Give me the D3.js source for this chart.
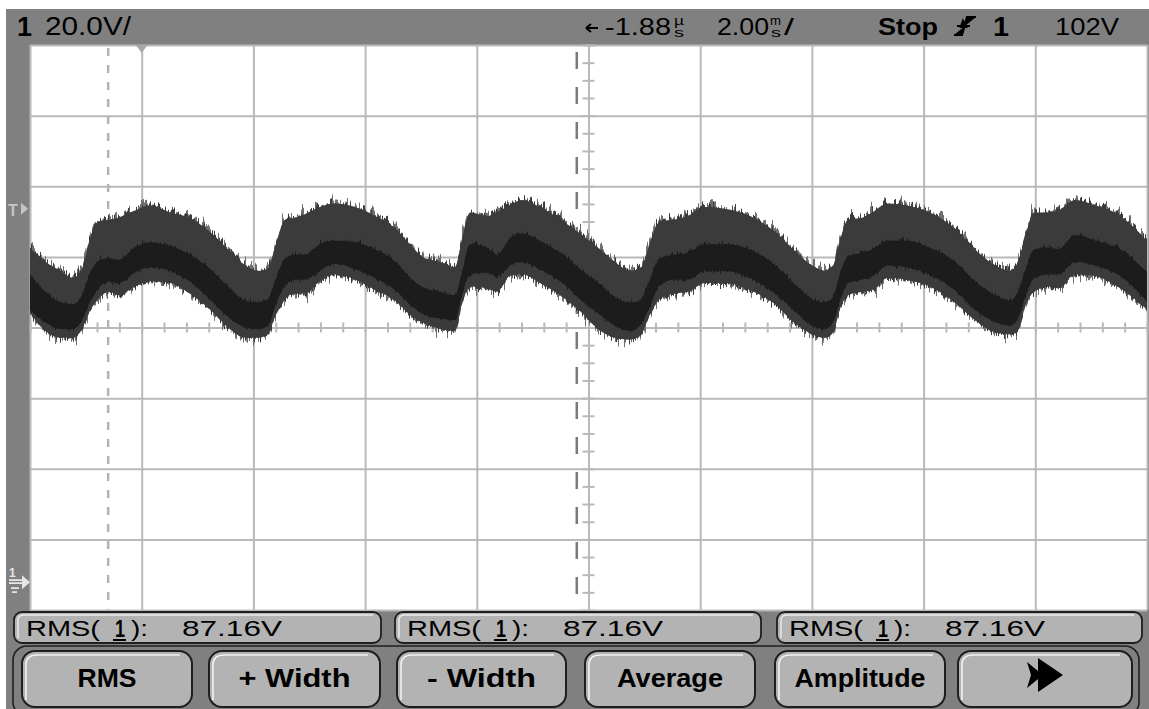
<!DOCTYPE html>
<html><head><meta charset="utf-8">
<script src="https://cdn.jsdelivr.net/npm/d3@7"></script>
<style>body{margin:0;background:#fff}svg{display:block}</style>
</head><body>
<svg id="c" width="1149" height="709"></svg>
<script>
// ---------- data ----------
const timeMs = [-10.00,-9.73,-9.46,-9.23,-9.07,-8.93,-8.75,-8.57,-8.42,-8.12,-7.85,-7.49,-7.14,-6.78,-6.42,-6.15,-5.92,-5.74,
  -5.60,-5.43,-5.26,-5.08,-4.81,-4.54,-4.18,-3.82,-3.46,-3.20,-2.93,-2.66,-2.39,
  -2.27,-2.12,-1.82,-1.64,-1.41,-1.19,-0.87,-0.46,-0.15,0.21,0.47,0.74,0.92,
  1.10,1.28,1.55,1.78,2.09,2.44,2.89,3.34,3.70,4.00,4.23,4.38,
  4.50,4.65,4.90,5.08,5.36,5.67,6.11,6.56,6.92,7.28,7.55,7.69,
  7.83,7.98,8.23,8.41,8.71,9.07,9.52,10.00];
const outerHi = [95,91,88.5,86.5,89,97,102.5,103,103.5,105.5,107,105,103.5,99.5,94,90,88.5,89,
  96,103,103.5,104.5,106.5,107.5,106.5,104,100.5,96,92,91,89.5,
  97,105,104,105,107,108.5,106.5,102.5,99,94.5,91,88.5,89,
  96,102.5,103,104,106.5,106,104,99.5,94,90,88.5,90,
  97,103,103.5,105,107.5,107,105,100.5,94.5,90,88.5,91,
  98.5,105,105,105.5,108.5,107,104,97];
const coreHi = [87.5,82.5,79.5,79,81.5,87.5,91.5,92,91.5,95,96.5,95.5,93,89,83.5,80,79.5,80.5,
  86,92,93,93,96,97,96.5,94.5,91,86.5,83.5,82.5,81.5,
  87.5,96,95,93,97.5,99,97,93,89,84.5,81,79.5,80,
  86,92,93,93.5,96,96,94.5,90,84.5,80.5,79.5,81,
  87.5,92.5,93.5,94.5,97,97,95,91,85.5,81.5,80,82.5,
  89,94.5,95,94.5,98.5,97,94.5,88];
const coreLo = [77.5,74,72,72,74.5,79.5,84,85.5,85,88,89.5,88.5,85.5,80.5,75,72.5,72,73,
  79,84.5,86,86,88.5,90.5,89,86.5,83,79,76,75,74.5,
  81.5,87.5,88,87,90,91,89,85,80.5,76,73,71.5,73,
  78.5,84.5,86,86,88.5,88.5,86.5,82,77,73,72,74,
  80,85,86,87,90,89.5,87.5,83,77.5,74,73,75,
  81.5,86.5,87.5,87.5,91,90,87,80];
const outerLo = [76.5,71.5,69.5,69.5,72,77,81,82.5,81.5,84,85.5,85,82,77.5,72,69.5,69.5,70.5,
  76,80.5,82,82,85.5,87.5,86,83,80,76,73.5,72,71.5,
  79,84,83.5,82.5,87,87.5,85,81,77,71.5,69.5,69,70,
  76,80.5,82,82.5,85,85,83,79,73.5,70.5,69.5,71,
  77.5,81.5,82.5,83,86.5,86,84,79.5,74.5,71,70.5,71.5,
  79,82.5,84,83.5,87.5,87,83.5,77.5];

const timePerDivMs = 2.0;      // 2.00 ms/
const voltsPerDiv = 20.0;      // 20.0 V/
const screenCenterV = 72.4;    // channel offset (ground marker near the bottom)
const timeGridMs = [-10,-8,-6,-4,-2,0,2,4,6,8,10];
const voltGridDiv = [-4,-3,-2,-1,0,1,2,3,4];
const cursorMs = [-8.60, -0.21];
const triggerPosMs = -8.0;
const triggerMarkV = 106;
const groundV = 0;

const topLabels = {ch:"1", scale:"20.0V/", delay:"-1.88", time:"2.00", mode:"Stop", trigCh:"1", level:"102V"};
const measLabels = ["RMS(1): 87.16V","RMS(1): 87.16V","RMS(1): 87.16V"];
const buttonLabels = ["RMS","+ Width","- Width","Average","Amplitude",""];

// ---------- layout ----------
const gx0 = 30, gx1 = 1147, gy0 = 45, gy1 = 610;
const svg = d3.select('#c');
const x = d3.scaleLinear().domain([-5*timePerDivMs, 5*timePerDivMs]).range([gx0, gx1]);
const y = d3.scaleLinear().domain([screenCenterV - 4*voltsPerDiv, screenCenterV + 4*voltsPerDiv]).range([gy1, gy0]);

// defs: filters for noisy spikes
const defs = svg.append('defs');
function spikeFilter(id, scale, seed, fx) {
  const f = defs.append('filter').attr('id', id)
    .attr('x', '-1%').attr('y', '-40%').attr('width', '102%').attr('height', '180%')
    .attr('color-interpolation-filters', 'sRGB');
  f.append('feTurbulence').attr('type', 'fractalNoise').attr('baseFrequency', fx + ' 0.003')
    .attr('numOctaves', 2).attr('seed', seed).attr('result', 'n');
  f.append('feColorMatrix').attr('in', 'n').attr('type', 'matrix')
    .attr('values', '0 0 0 0 0.5  0 1 0 0 0  0 0 0 0 0  0 0 0 0 1').attr('result', 'm');
  f.append('feDisplacementMap').attr('in', 'SourceGraphic').attr('in2', 'm')
    .attr('scale', scale).attr('xChannelSelector', 'R').attr('yChannelSelector', 'G');
}
spikeFilter('spkA', 34, 7, 0.45);
spikeFilter('spkB', 22, 3, 0.55);
spikeFilter('spkC', 12, 11, 0.6);
defs.append('clipPath').attr('id', 'gclip').append('rect')
  .attr('x', gx0).attr('y', gy0).attr('width', gx1 - gx0).attr('height', gy1 - gy0);

// panel background
svg.append('rect').attr('x', 6).attr('y', 9).attr('width', 1143).attr('height', 700).attr('fill', '#808080');
svg.append('rect').attr('x', gx0).attr('y', gy0).attr('width', gx1 - gx0).attr('height', gy1 - gy0).attr('fill', '#ffffff');

// grid via axes
const gridCol = '#b9b9b9';
const gV = svg.append('g').attr('transform', `translate(0,${gy1})`)
  .call(d3.axisBottom(x).tickValues(timeGridMs).tickSize(-(gy1 - gy0)).tickFormat(''));
const gH = svg.append('g').attr('transform', `translate(${gx0},0)`)
  .call(d3.axisLeft(y).tickValues(voltGridDiv.map(d => screenCenterV + d*voltsPerDiv)).tickSize(-(gx1 - gx0)).tickFormat(''));
// minor ticks on center lines
const minorT = d3.range(-5*timePerDivMs, 5*timePerDivMs + 1e-9, timePerDivMs/5);
const minorV = d3.range(screenCenterV - 4*voltsPerDiv, screenCenterV + 4*voltsPerDiv + 1e-9, voltsPerDiv/4);
const gMT = svg.append('g').attr('transform', `translate(0,${y(screenCenterV) + 5})`)
  .call(d3.axisBottom(x).tickValues(minorT).tickSize(-10).tickFormat(''));
const gMV = svg.append('g').attr('transform', `translate(${x(0) - 6},0)`)
  .call(d3.axisLeft(y).tickValues(minorV).tickSize(-12).tickFormat(''));
[gV, gH, gMT, gMV].forEach(g => {
  g.select('.domain').remove();
  g.selectAll('line').attr('stroke', gridCol).attr('stroke-width', 2);
});

// cursors
svg.append('line').attr('x1', x(cursorMs[0])).attr('x2', x(cursorMs[0])).attr('y1', gy0 + 3).attr('y2', gy1)
  .attr('stroke', '#b4b4b4').attr('stroke-width', 2.5).attr('stroke-dasharray', '8 9');
svg.append('line').attr('x1', x(cursorMs[1])).attr('x2', x(cursorMs[1])).attr('y1', gy0 + 7).attr('y2', gy1)
  .attr('stroke', '#7a7a7a').attr('stroke-width', 2.5).attr('stroke-dasharray', '17 18');

// waveform
const pts = timeMs.map((t, i) => ({t, oh: outerHi[i], ol: outerLo[i], ch: coreHi[i], cl: coreLo[i]}));
const outer = d3.area().x(d => x(d.t)).y0(d => y(d.ol)).y1(d => y(d.oh)).curve(d3.curveMonotoneX);
const core = d3.area().x(d => x(d.t)).y0(d => y(d.cl)).y1(d => y(d.ch)).curve(d3.curveMonotoneX);
const wave = svg.append('g').attr('clip-path', 'url(#gclip)');
wave.append('path').attr('d', outer(pts)).attr('fill', '#6e6e6e').attr('filter', 'url(#spkA)');
wave.append('path').attr('d', outer(pts)).attr('fill', '#3b3b3b').attr('filter', 'url(#spkB)');
wave.append('path').attr('d', outer(pts)).attr('fill', '#3b3b3b');
wave.append('path').attr('d', core(pts)).attr('fill', '#1c1c1c').attr('filter', 'url(#spkC)');
wave.append('path').attr('d', core(pts)).attr('fill', '#1c1c1c');

// trigger position marker (top) and level marker (left)
const tp = x(triggerPosMs);
svg.append('path').attr('d', `M${tp - 6},${gy0} L${tp + 6},${gy0} L${tp},${gy0 + 8} Z`).attr('fill', '#a9a9a9');
const tl = y(triggerMarkV);
svg.append('text').attr('x', 8).attr('y', tl + 7).text('T')
  .attr('font-family', 'Liberation Sans, sans-serif').attr('font-weight', 'bold').attr('font-size', 16).attr('fill', '#c4c4c4');
svg.append('path').attr('d', `M21,${tl - 6} L28,${tl} L21,${tl + 6} Z`).attr('fill', '#c4c4c4');
const gl = y(groundV);
svg.append('text').attr('x', 9).attr('y', gl - 6).text('1')
  .attr('font-family', 'Liberation Sans, sans-serif').attr('font-weight', 'bold').attr('font-size', 12).attr('fill', '#e6e6e6');
svg.append('path').attr('d', `M9,${gl - 3} L24,${gl - 3} M9,${gl} L24,${gl} M11,${gl + 5} L19,${gl + 5} M12,${gl + 9} L17,${gl + 9}`)
  .attr('stroke', '#e6e6e6').attr('stroke-width', 1.6);
svg.append('path').attr('d', `M22,${gl - 8} L30,${gl - 1} L22,${gl + 6} Z`).attr('fill', '#e6e6e6');

// ---------- top status bar ----------
const F = 'Liberation Sans, Arial, sans-serif';
function txt(s, xx, yy, size, opts = {}) {
  const t = svg.append('text').attr('x', xx).attr('y', yy).text(s)
    .attr('font-family', opts.family || F).attr('font-size', size).attr('fill', opts.fill || '#000')
    .attr('font-weight', opts.bold ? 'bold' : 'normal');
  if (opts.len) t.attr('textLength', opts.len).attr('lengthAdjust', 'spacingAndGlyphs');
  if (opts.anchor) t.attr('text-anchor', opts.anchor);
  return t;
}
txt(topLabels.ch, 17, 36, 28, {bold: true, len: 15});
txt(topLabels.scale, 45, 35, 25, {len: 86});
svg.append('path').attr('d', 'M586,28 L598,28 M586,28 L591,24 M586,28 L591,32').attr('stroke', '#000').attr('stroke-width', 2).attr('fill', 'none');
txt(topLabels.delay, 605, 35, 24, {len: 66});
txt('µ', 674, 25, 12, {len: 10});
txt('s', 674, 37, 12, {len: 10});
txt(topLabels.time, 717, 35, 24, {len: 52});
txt('m', 770, 25, 12, {len: 11});
txt('s', 771, 37, 12, {len: 10});
txt('/', 784, 35, 24, {len: 10});
txt(topLabels.mode, 878, 35, 24, {bold: true, len: 60});
svg.append('path').attr('d', 'M954,35 L962,35 L967,17 L976,17 M957,26 L970,26 M963,21 L966,27 L961,27 Z')
  .attr('stroke', '#000').attr('stroke-width', 2.2).attr('fill', '#000');
txt(topLabels.trigCh, 993, 36, 28, {bold: true, len: 16});
txt(topLabels.level, 1055, 35, 24, {len: 64});

// ---------- measurement bar ----------
const measBoxes = [[14, 381], [395, 761], [777, 1142]];
measBoxes.forEach(([a, b], i) => {
  svg.append('rect').attr('x', a).attr('y', 612).attr('width', b - a).attr('height', 31).attr('rx', 8)
    .attr('fill', '#b3b3b3').attr('stroke', '#1e1e1e').attr('stroke-width', 1.8);
  svg.append('path').attr('d', `M${a + 4},${638} L${a + 4},${620} Q${a + 4},${615} ${a + 10},${615} L${b - 8},${615}`)
    .attr('fill', 'none').attr('stroke', '#eaeaea').attr('stroke-width', 1.5);
  const parts = measLabels[i].match(/^(RMS\()(1)(\):)\s*(.*)$/);
  txt(parts[1], a + 12, 636, 22, {len: 74});
  txt(parts[2], a + 101, 637, 24, {bold: true, len: 10});
  svg.append('line').attr('x1', a + 99).attr('x2', a + 112).attr('y1', 640).attr('y2', 640).attr('stroke', '#000').attr('stroke-width', 2);
  txt(parts[3], a + 117, 636, 22, {len: 17});
  txt(parts[4], a + 168, 636, 22, {len: 100});
});

// ---------- softkey buttons ----------
const btns = [[22, 192], [209, 380], [397, 566], [585, 755], [775, 945], [958, 1132]];
const btnTextLen = [59, 112, 109, 106, 131, 0];
svg.append('rect').attr('x', 13).attr('y', 646).attr('width', 1126).attr('height', 70).attr('rx', 14)
  .attr('fill', 'none').attr('stroke', '#1e1e1e').attr('stroke-width', 1.6);
btns.forEach(([a, b], i) => {
  svg.append('rect').attr('x', a).attr('y', 651).attr('width', b - a).attr('height', 56).attr('rx', 13)
    .attr('fill', '#b3b3b3').attr('stroke', '#1e1e1e').attr('stroke-width', 2);
  svg.append('path').attr('d', `M${a + 4},${700} L${a + 4},${665} Q${a + 4},${655} ${a + 15},${655} L${b - 12},${655}`)
    .attr('fill', 'none').attr('stroke', '#f2f2f2').attr('stroke-width', 1.6);
  if (buttonLabels[i]) {
    txt(buttonLabels[i], (a + b) / 2, 687, 26, {bold: true, anchor: 'middle', len: btnTextLen[i]});
  }
});
// arrow icon on the last key
svg.append('path').attr('d', 'M1027,662 L1043,675 L1027,688 L1031,675 Z M1038,658 L1063,675 L1038,692 Z').attr('fill', '#000');
</script>
</body></html>
